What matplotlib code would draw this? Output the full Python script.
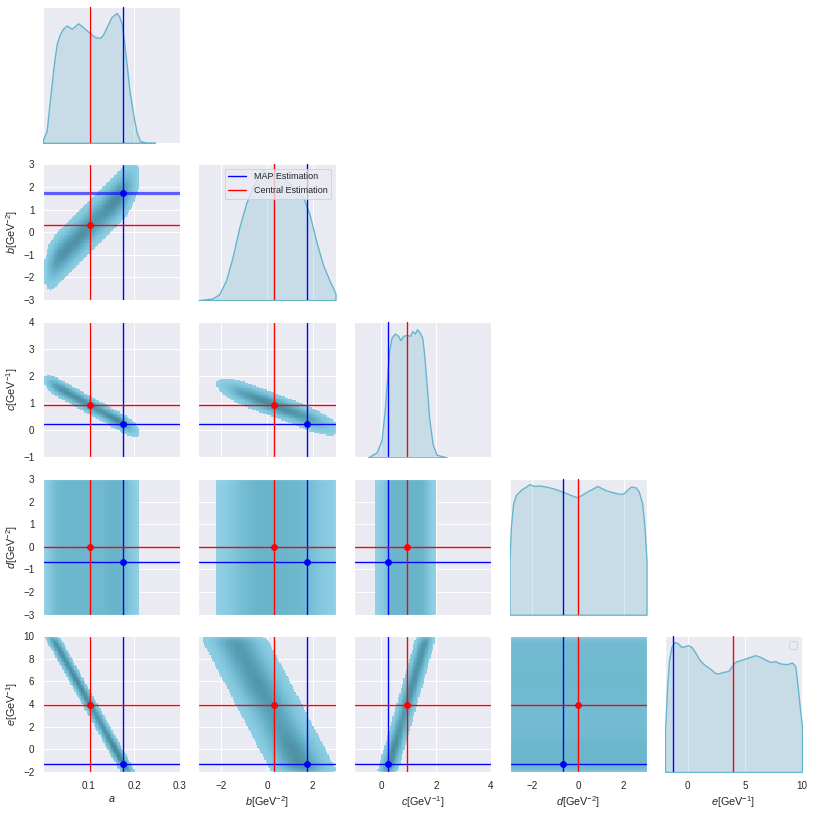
import numpy as np
import matplotlib
matplotlib.use("Agg")
import matplotlib.pyplot as plt
from matplotlib.colors import ListedColormap, to_rgba
import seaborn as sns
from seaborn.external import husl

sns.set_theme(style="darkgrid", color_codes=True)
plt.rcParams['font.family'] = ['Liberation Sans', 'DejaVu Sans']
plt.rcParams['mathtext.fontset'] = 'custom'
plt.rcParams['mathtext.rm'] = 'Liberation Sans'
plt.rcParams['mathtext.it'] = 'Liberation Sans:italic'

labels = [r"$a$", r"$b[\mathrm{GeV}^{-2}]$", r"$c[\mathrm{GeV}^{-1}]$",
          r"$d[\mathrm{GeV}^{-2}]$", r"$e[\mathrm{GeV}^{-1}]$"]
limits = [(0, 0.3), (-3, 3), (-1, 4), (-3, 3), (-2, 10)]
col_ticks = [[0.1, 0.2, 0.3], [-2, 0, 2], [0, 2, 4], [-2, 0, 2], [0, 5, 10]]
row_ticks = [None, [-3, -2, -1, 0, 1, 2, 3], [-1, 0, 1, 2, 3, 4],
             [-3, -2, -1, 0, 1, 2, 3], [-2, 0, 2, 4, 6, 8, 10]]

map_est = [0.176, 1.74, 0.24, -0.65, -1.27]
central_est = [0.104, 0.30, 0.92, -0.02, 3.92]

# diagonal kde curves, height relative to the panel
a_x = [0.0, 0.008, 0.015, 0.023, 0.030, 0.037, 0.044, 0.052, 0.063, 0.077, 0.088,
       0.103, 0.114, 0.125, 0.132, 0.139, 0.150, 0.161, 0.167, 0.172, 0.177, 0.183,
       0.190, 0.198, 0.205, 0.212, 0.227, 0.245]
a_h = [0.025, 0.086, 0.31, 0.556, 0.728, 0.80, 0.84, 0.864, 0.84, 0.88, 0.85,
       0.807, 0.778, 0.773, 0.80, 0.85, 0.926, 0.956, 0.93, 0.88, 0.76, 0.58,
       0.37, 0.20, 0.08, 0.015, 0.0, 0.0]
b_x = [-3.0, -2.39, -2.09, -1.8, -1.51, -1.21, -0.92, -0.63, -0.41, -0.19, -0.04,
       0.10, 0.40, 0.69, 0.98, 1.27, 1.57, 1.71, 1.86, 2.15, 2.44, 2.74, 3.0]
b_h = [0.0, 0.012, 0.044, 0.143, 0.315, 0.537, 0.709, 0.833, 0.906, 0.956, 0.943,
       0.931, 0.926, 0.906, 0.857, 0.808, 0.759, 0.70, 0.635, 0.438, 0.266, 0.143, 0.05]
c_x = [-0.49, -0.18, 0.0, 0.12, 0.21, 0.28, 0.37, 0.49, 0.61, 0.70, 0.79, 0.91,
       1.04, 1.13, 1.22, 1.30, 1.40, 1.49, 1.56, 1.65, 1.74, 1.87, 2.01, 2.38]
c_h = [0.0, 0.037, 0.123, 0.343, 0.588, 0.784, 0.882, 0.912, 0.895, 0.863, 0.895,
       0.902, 0.895, 0.931, 0.912, 0.944, 0.919, 0.882, 0.76, 0.539, 0.294, 0.098,
       0.02, 0.0]
d_x = [-3.0, -2.94, -2.84, -2.72, -2.5, -2.28, -2.13, -1.91, -1.69, -1.39, -1.1,
       -0.80, -0.51, -0.21, -0.04, 0.16, 0.38, 0.67, 0.85, 1.04, 1.26, 1.56, 1.85,
       2.0, 2.15, 2.32, 2.52, 2.66, 2.81, 2.91, 3.0]
d_h = [0.401, 0.648, 0.82, 0.882, 0.919, 0.943, 0.961, 0.948, 0.951, 0.943, 0.931,
       0.914, 0.894, 0.874, 0.865, 0.882, 0.906, 0.931, 0.948, 0.931, 0.914, 0.9,
       0.889, 0.894, 0.919, 0.943, 0.938, 0.906, 0.82, 0.648, 0.401]
e_x = [-2.0, -1.97, -1.82, -1.65, -1.44, -1.15, -0.86, -0.56, -0.27, 0.02, 0.32,
       0.61, 1.05, 1.49, 1.93, 2.37, 2.67, 3.11, 3.55, 3.84, 4.13, 4.57, 5.01, 5.45,
       5.89, 6.33, 6.77, 7.21, 7.65, 8.09, 8.68, 9.12, 9.41, 9.62, 9.8, 10.0]
e_h = [0.33, 0.356, 0.627, 0.823, 0.921, 0.958, 0.946, 0.921, 0.926, 0.934, 0.921,
       0.885, 0.823, 0.786, 0.762, 0.73, 0.725, 0.737, 0.744, 0.779, 0.811, 0.823,
       0.835, 0.848, 0.86, 0.848, 0.828, 0.811, 0.816, 0.799, 0.794, 0.806, 0.779,
       0.627, 0.479, 0.332]
profiles = [(a_x, a_h), (b_x, b_h), (c_x, c_h), (d_x, d_h), (e_x, e_h)]

# correlated pairs: centre of the band at a few knots, and its spread
ab_a, ab_b, ab_width = [0.0, 0.105, 0.21], [-1.83, 0.30, 2.43], 0.47
ac_a, ac_c, ac_width = [0.0, 0.105, 0.215], [1.87, 0.90, -0.12], 0.14
bc_b, bc_c, bc_width = [-3.0, 0.3, 3.0], [1.95, 0.93, 0.05], 0.18
ae_e, ae_a, ae_width = [-2.0, 3.9, 10.0], [0.186, 0.104, 0.019], 0.0068
be_e, be_b, be_width = [-2.0, 3.9, 10.0], [1.63, 0.10, -1.49], 0.58
ce_e, ce_c, ce_width = [-2.0, 3.9, 10.0], [0.22, 0.92, 1.64], 0.15
d_range = [-3.0, 3.0]

# (row, col): driver axis, knots of the driver, knots of the other, spread, colour saturation
bands = {
    (1, 0): ("x", ab_a, ab_b, ab_width, 1.75),
    (2, 0): ("x", ac_a, ac_c, ac_width, 1.7),
    (2, 1): ("x", bc_b, bc_c, bc_width, 1.75),
    (4, 0): ("y", ae_e, ae_a, ae_width, 1.6),
    (4, 1): ("y", be_e, be_b, be_width, 1.9),
    (4, 2): ("y", ce_e, ce_c, ce_width, 1.7),
}


def hist_cmap(color):
    r, g, b, _ = to_rgba(color)
    h, s, _ = husl.rgb_to_husl(r, g, b)
    xx = np.linspace(-1, 1, int(1.15 * 256))[:256]
    ramp = np.zeros((256, 3))
    ramp[:, 0] = h
    ramp[:, 1] = s * np.cos(xx)
    ramp[:, 2] = np.linspace(35, 80, 256)
    colors = np.clip([husl.husl_to_rgb(*hsl) for hsl in ramp], 0, 1)
    return ListedColormap(colors[::-1])


def bins(lim, n=100):
    edges = np.linspace(lim[0], lim[1], n + 1)
    return edges, 0.5 * (edges[1:] + edges[:-1])


def band_grid(dv, ov, knots_d, knots_o, width, px, ph):
    centre = np.interp(dv, knots_d, knots_o)
    z = (ov - centre) / width
    w = np.interp(dv, px, ph, left=0, right=0) * np.exp(-0.5 * z ** 2)
    w[np.abs(z) > 2.5] = 0
    return w


cmap = hist_cmap("c")

fig, axes = plt.subplots(5, 5, figsize=(12.5, 12.5), sharex='col', sharey='row')
fig.subplots_adjust(left=0.0528, right=0.9853, bottom=0.0516, top=0.9914,
                    wspace=0.135, hspace=0.158)

for i in range(5):
    for j in range(5):
        ax = axes[i, j]
        if j > i:
            ax.remove()
            continue
        if i == j:
            ax.yaxis.set_visible(False)
            tw = ax.twinx()
            px, ph = profiles[i]
            tw.fill_between(px, 0, ph, facecolor=to_rgba("c", 0.25), edgecolor="c", lw=1.5)
            tw.axvline(map_est[i], color="blue", lw=1.5, label="MAP Estimation")
            tw.axvline(central_est[i], color="red", lw=1.5, label="Central Estimation")
            tw.set_ylim(0, 1)
            tw.set_axis_off()
            if i == 1:
                tw.legend(loc="upper right", fontsize=10)
            if i == 4:
                tw.legend(handles=[], loc="upper right")
            continue

        xe, xc = bins(limits[j])
        ye, yc = bins(limits[i])
        X, Y = np.meshgrid(xc, yc)
        if (i, j) in bands:
            drv, kd, ko, width, sat = bands[(i, j)]
            if drv == "x":
                w = band_grid(X, Y, kd, ko, width, *profiles[j])
            else:
                w = band_grid(Y, X, kd, ko, width, *profiles[i])
        elif i == 3:
            px, ph = profiles[j]
            w = np.interp(X, px, ph, left=0, right=0) * ((Y >= d_range[0]) & (Y <= d_range[1]))
            sat = 4.2
        else:
            px, ph = profiles[i]
            w = np.interp(Y, px, ph, left=0, right=0) * ((X >= d_range[0]) & (X <= d_range[1]))
            sat = 4.5
        w[w < 0.03 * w.max()] = 0
        ax.pcolormesh(xe, ye, np.ma.masked_equal(w, 0), cmap=cmap, vmin=0, vmax=w.max() * sat)

        ax.axvline(map_est[j], color="blue", lw=1.5)
        if (i, j) == (1, 0):
            ax.axhline(map_est[i], color="blue", lw=3.5, alpha=0.6)
        else:
            ax.axhline(map_est[i], color="blue", lw=1.5)
        ax.axvline(central_est[j], color="red", lw=1.5)
        ax.axhline(central_est[i], color="red", lw=1.5)
        ax.plot(map_est[j], map_est[i], "o", color="blue", ms=6.5)
        ax.plot(central_est[j], central_est[i], "o", color="red", ms=6.5)

for j in range(5):
    axes[4, j].set_xlim(*limits[j])
    axes[4, j].set_xticks(col_ticks[j])
    axes[4, j].set_xlabel(labels[j])
for i in range(1, 5):
    axes[i, 0].set_ylim(*limits[i])
    axes[i, 0].set_yticks(row_ticks[i])
    axes[i, 0].set_ylabel(labels[i])

fig.savefig("out.png", dpi=65.12)
